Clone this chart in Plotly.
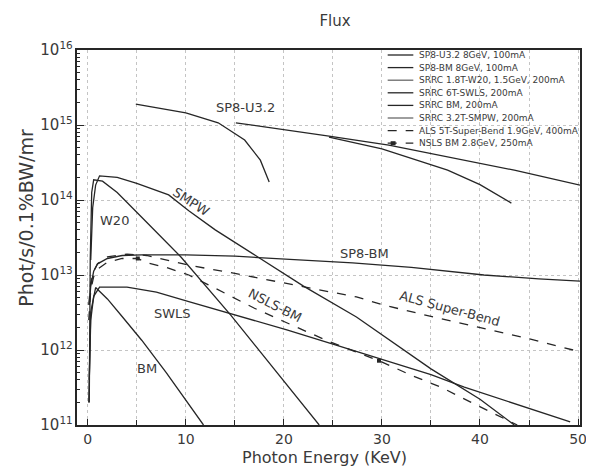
import plotly.graph_objects as go

# ---------------- data (photon energy keV, flux Phot/s/0.1%BW/mr) ----------------
sp8_u32_x = [4.9, 7, 10, 13.3, 16, 17.6, 18.5, None,
             15.1, 20, 24.6, 30.7, 36.7, 43.5, 50.2, None,
             24.6, 30, 36.7, 40, 43.2]
sp8_u32_y = [1.9e15, 1.7e15, 1.45e15, 1.07e15, 6.3e14, 3.4e14, 1.74e14, None,
             1.07e15, 8.7e14, 7.1e14, 5.4e14, 3.8e14, 2.5e14, 1.58e14, None,
             6.9e14, 4.8e14, 2.5e14, 1.6e14, 9.1e13]

sp8_bm_x = [0.15, 0.3, 0.6, 1, 2, 3.5, 5.5, 10, 15, 21.3, 27, 33, 40.4, 46, 50.2]
sp8_bm_y = [4e12, 7.1e12, 1.12e13, 1.41e13, 1.66e13, 1.82e13, 1.86e13, 1.86e13,
            1.78e13, 1.58e13, 1.45e13, 1.26e13, 1.0e13, 8.9e12, 8.3e12]

w20_x = [0.15, 0.25, 0.4, 0.6, 1.5, 3, 5.5, 9.5, 14.6, 19, 23.6]
w20_y = [2e11, 1.58e13, 1.26e14, 1.86e14, 1.78e14, 1.26e14, 5.9e13, 1.74e13,
         2.9e12, 5.6e11, 1e11]

swls_x = [0.15, 0.3, 0.6, 1.2, 4, 7, 10.3, 15, 20.3, 25, 30, 35, 38.4, 44, 49.2]
swls_y = [4e11, 2.5e12, 5.2e12, 6.9e12, 6.9e12, 5.9e12, 4.4e12, 2.95e12, 1.86e12,
          1.2e12, 7.6e11, 4.7e11, 3.2e11, 1.82e11, 1.1e11]

bm_x = [0.1, 0.3, 0.8, 2, 3.5, 5.5, 8, 10, 11.8]
bm_y = [2e11, 3.2e12, 6.8e12, 4.8e12, 2.8e12, 1.35e12, 5e11, 2.1e11, 1e11]

smpw_x = [0.3, 0.5, 0.8, 1.2, 3, 5, 8.25, 10.3, 13, 17.3, 22, 27.4, 30.4, 35, 40, 43.5]
smpw_y = [1.58e13, 7.9e13, 1.58e14, 2.1e14, 2.0e14, 1.66e14, 1.17e14, 7.2e13, 4e13,
          1.74e13, 7.1e12, 2.75e12, 1.48e12, 5.6e11, 2.2e11, 1e11]

als_x = [0.1, 0.3, 0.6, 1, 2, 4, 6, 10.3, 15, 20.3, 24, 27.4, 30.1, 35, 40, 45, 49.5]
als_y = [4e12, 7.9e12, 1.12e13, 1.41e13, 1.74e13, 1.9e13, 1.82e13, 1.35e13, 1.05e13,
         7.8e12, 6.2e12, 5.1e12, 4e12, 2.8e12, 2e12, 1.41e12, 1e12]

nsls_x = [0.1, 0.3, 0.6, 1, 2, 3.5, 5.1, 6.1, 8, 10.3, 12.3, 14.3, 17, 20, 24.3, 27,
          29.7, 33, 36, 39.1, 42.8, 43.8]
nsls_y = [2.5e12, 6.3e12, 9.5e12, 1.2e13, 1.48e13, 1.66e13, 1.66e13, 1.45e13, 1.26e13,
          1e13, 7.4e12, 5.4e12, 3.6e12, 2.4e12, 1.35e12, 9.8e11, 7.2e11, 4.6e11,
          3.2e11, 2e11, 1.17e11, 1e11]
nsls_marked = [5.1, 29.7]

legend_labels = [
    "SP8-U3.2 8GeV, 100mA",
    "SP8-BM 8GeV, 100mA",
    "SRRC 1.8T-W20, 1.5GeV, 200mA",
    "SRRC 6T-SWLS, 200mA",
    "SRRC BM, 200mA",
    "SRRC 3.2T-SMPW, 200mA",
    "ALS 5T-Super-Bend 1.9GeV, 400mA",
    "NSLS BM 2.8GeV, 250mA",
]
curve_labels = ["SP8-U3.2", "SMPW", "W20", "SP8-BM", "ALS Super-Bend", "NSLS-BM", "SWLS", "BM"]
x_ticks = [0, 10, 20, 30, 40, 50]

# ---------------- styling / layout ----------------
FONT = "DejaVu Sans"
INK = "#262626"
TXT = "#3a3a3a"
OFF = 8                      # page body margin
PAGE_W, PAGE_H = 594, 470
W, H = PAGE_W - OFF, PAGE_H - OFF
# plot area in page pixels: x 77..587, y 50..425
L, T = 77 - OFF, 50 - OFF
R, B = W - (587 - OFF), H - (425 - OFF)
PW, PH = W - L - R, H - T - B

series = [
    (sp8_u32_x, sp8_u32_y, "solid"),
    (sp8_bm_x, sp8_bm_y, "solid"),
    (w20_x, w20_y, "solid"),
    (swls_x, swls_y, "solid"),
    (bm_x, bm_y, "solid"),
    (smpw_x, smpw_y, "solid"),
    (als_x, als_y, "dash"),
    (nsls_x, nsls_y, "dash"),
]

fig = go.Figure()
for (xs, ys, dash), name in zip(series, legend_labels):
    fig.add_trace(go.Scatter(x=xs, y=ys, mode="lines", name=name,
                             line=dict(color=INK, width=1.3, dash=dash),
                             connectgaps=False, showlegend=False,
                             hoverinfo="skip"))

# NSLS markers
mk_y = [nsls_y[nsls_x.index(v)] for v in nsls_marked]
fig.add_trace(go.Scatter(x=nsls_marked, y=mk_y, mode="markers",
                         marker=dict(symbol="square", size=4, color=INK),
                         showlegend=False, hoverinfo="skip"))


def px2paper(px, py):
    """page pixel -> paper coordinates"""
    return (px - OFF - L) / PW, (H - B - (py - OFF)) / PH


# manual legend
leg_x0, leg_x1, leg_tx, leg_top, leg_step = 392, 418, 422, 55, 12.6
for i, ((_, _, dash), name) in enumerate(zip(series, legend_labels)):
    py = leg_top + i * leg_step
    x0, y0 = px2paper(leg_x0, py)
    x1, _ = px2paper(leg_x1, py)
    tx, _ = px2paper(leg_tx, py)
    col = "#6a6a6a" if name.startswith(("SRRC 1.8", "SRRC 3.2")) else INK
    fig.add_shape(type="line", xref="paper", yref="paper", x0=x0, x1=x1, y0=y0, y1=y0,
                  line=dict(color=col, width=1.3, dash=dash))
    if name.startswith("NSLS"):
        sx, _ = px2paper(leg_x0 + 3, py)
        sx2, _ = px2paper(leg_x0 + 8, py)
        _, sy0 = px2paper(0, py - 2)
        _, sy1 = px2paper(0, py + 2)
        fig.add_shape(type="rect", xref="paper", yref="paper", x0=sx, x1=sx2,
                      y0=sy1, y1=sy0, fillcolor=INK, line=dict(width=0))
    fig.add_annotation(xref="paper", yref="paper", x=tx, y=y0, text=name,
                       showarrow=False, xanchor="left", yanchor="middle",
                       font=dict(family=FONT, size=9, color=TXT))

# curve labels: (x, log10 y, angle)
label_pos = [(16.1, 15.24, 0), (10.5, 13.98, 33), (2.7, 13.73, 0), (28.2, 13.29, 0),
             (36.9, 12.55, 15), (19.1, 12.59, 27), (8.6, 12.49, 0), (6.0, 11.76, 0)]
for txt, (lx, ly, ang) in zip(curve_labels, label_pos):
    fig.add_annotation(x=lx, y=ly, text=txt, showarrow=False, textangle=ang,
                       font=dict(family=FONT, size=13, color=TXT))

# axis titles
ax, ay = px2paper(328, 457)
fig.add_annotation(xref="paper", yref="paper", x=ax, y=ay, text="Photon Energy (KeV)",
                   showarrow=False, xanchor="center", yanchor="middle",
                   font=dict(family=FONT, size=16, color=TXT))
bx, by = px2paper(25, 218)
fig.add_annotation(xref="paper", yref="paper", x=bx, y=by, text="Phot/s/0.1%BW/mr",
                   showarrow=False, textangle=-90, xanchor="center", yanchor="middle",
                   font=dict(family=FONT, size=19, color=TXT))

grid = dict(showgrid=True, gridcolor="#c4c4c4", gridwidth=1, griddash="dot")
fig.update_xaxes(range=[-1.1, 50.2], tickvals=x_ticks, ticks="inside", ticklen=6,
                 tickcolor=INK, showline=True, linecolor=INK, linewidth=1.6, mirror=True,
                 zeroline=False, tickfont=dict(family=FONT, size=14, color=TXT),
                 minor=dict(dtick=5, tick0=0, ticks="inside", ticklen=5, tickcolor=INK,
                            showgrid=True, gridcolor="#c4c4c4", griddash="dot"),
                 **grid)
fig.update_yaxes(type="log", range=[11, 16], dtick=1, exponentformat="power",
                 ticks="inside", ticklen=7, tickcolor=INK, showline=True, linecolor=INK,
                 linewidth=1.6, mirror=True, zeroline=False,
                 tickfont=dict(family=FONT, size=12, color=TXT),
                 minor=dict(dtick="D1", ticks="inside", ticklen=3, tickcolor=INK,
                            showgrid=False),
                 **grid)

fig.update_layout(
    width=W, height=H, margin=dict(l=L, r=R, t=T, b=B),
    paper_bgcolor="white", plot_bgcolor="white",
    title=dict(text="Flux", x=(335 - OFF) / W, y=1 - (21 - OFF) / H,
               xanchor="center", yanchor="middle",
               font=dict(family=FONT, size=15, color=TXT)),
    showlegend=False,
)

fig.write_html("out.html")
